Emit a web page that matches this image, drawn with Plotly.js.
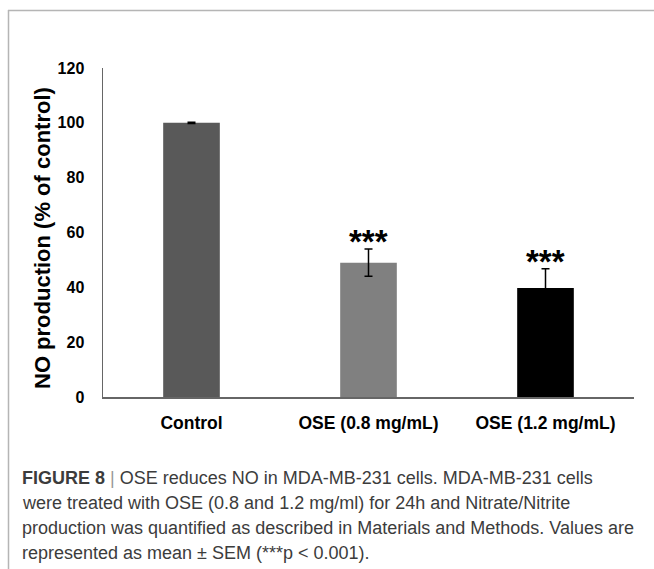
<!DOCTYPE html>
<html>
<head>
<meta charset="utf-8">
<script src="https://cdn.plot.ly/plotly-3.0.1.min.js"></script>
<style>
html,body{margin:0;padding:0;background:#fff;}
#chart{width:654px;height:569px;}
</style>
</head>
<body>
<div id="chart"></div>
<script>
const categories = ["Control", "OSE (0.8 mg/mL)", "OSE (1.2 mg/mL)"];
const values = [100, 49, 39.8];
const sem = [0.2, 5, 7];
const barColors = ["#595959", "#808080", "#000000"];
const significance = ["", "***", "***"];
const yTicks = [0, 20, 40, 60, 80, 100, 120];
const yTitle = "NO production (% of control)";
const captionLines = [
  "<b>FIGURE 8</b> <span style='color:#999'>|</span> OSE reduces NO in MDA-MB-231 cells. MDA-MB-231 cells",
  "were treated with OSE (0.8 and 1.2 mg/ml) for 24h and Nitrate/Nitrite",
  "production was quantified as described in Materials and Methods. Values are",
  "represented as mean ± SEM (***p < 0.001)."
];

const W = 654, H = 569;
const L = 103, R = 634, T = 68, B = 397;
const pw = R - L, ph = B - T;
const px = x => (x - L) / pw;
const py = y => (B - y) / ph;

const trace = {
  type: "bar",
  x: categories,
  y: values,
  marker: {color: barColors, line: {width: 0}},
  error_y: {type: "data", array: sem, visible: true, color: "#000", thickness: 1.5, width: 4},
  hoverinfo: "skip"
};

const annotations = [];
categories.forEach((c, i) => {
  if (significance[i]) {
    annotations.push({
      x: c, y: values[i] + sem[i], xref: "x", yref: "y",
      text: "<b>" + significance[i] + "</b>", showarrow: false,
      font: {family: "Liberation Sans, Arial, sans-serif", size: 33, color: "#000"},
      yanchor: "middle", yshift: 7
    });
  }
});
annotations.push({
  x: px(42), y: py(238), xref: "paper", yref: "paper",
  text: "<b>" + yTitle + "</b>", textangle: -90, showarrow: false,
  font: {family: "Liberation Sans, Arial, sans-serif", size: 22, color: "#000"},
  xanchor: "center", yanchor: "middle"
});
const capY = [478, 503, 528, 553];
captionLines.forEach((t, i) => {
  annotations.push({
    x: px(20), y: py(capY[i]), xref: "paper", yref: "paper",
    text: t, showarrow: false, align: "left",
    font: {family: "Liberation Sans, Arial, sans-serif", size: 18, color: "#3c3c3c"},
    xanchor: "left", yanchor: "middle"
  });
});

const shapes = [
  {type: "line", xref: "paper", yref: "paper", x0: px(8), x1: px(654), y0: py(10.5), y1: py(10.5), line: {color: "#b5b5b5", width: 1.5}},
  {type: "line", xref: "paper", yref: "paper", x0: px(8.5), x1: px(8.5), y0: py(10), y1: py(569), line: {color: "#b5b5b5", width: 1.5}}
];

const layout = {
  width: W, height: H,
  margin: {l: L, r: W - R, t: T, b: H - B, pad: 0},
  paper_bgcolor: "#fff", plot_bgcolor: "#fff",
  showlegend: false,
  bargap: 0.68,
  xaxis: {
    showgrid: false, zeroline: false, showline: true, linecolor: "#666", linewidth: 1.5,
    ticks: "", ticklabelstandoff: 9,
    tickfont: {family: "Liberation Sans, Arial, sans-serif", size: 17.5, color: "#000", weight: "bold"},
    fixedrange: true
  },
  yaxis: {
    range: [0, 120], tickvals: yTicks, ticktext: yTicks.map(String),
    showgrid: false, zeroline: false, showline: true, linecolor: "#666", linewidth: 1.5,
    ticks: "", ticklabelstandoff: 14,
    tickfont: {family: "Liberation Sans, Arial, sans-serif", size: 16, color: "#000", weight: "bold"},
    fixedrange: true
  },
  annotations: annotations,
  shapes: shapes
};

Plotly.newPlot("chart", [trace], layout, {displayModeBar: false, staticPlot: true});
</script>
</body>
</html>
